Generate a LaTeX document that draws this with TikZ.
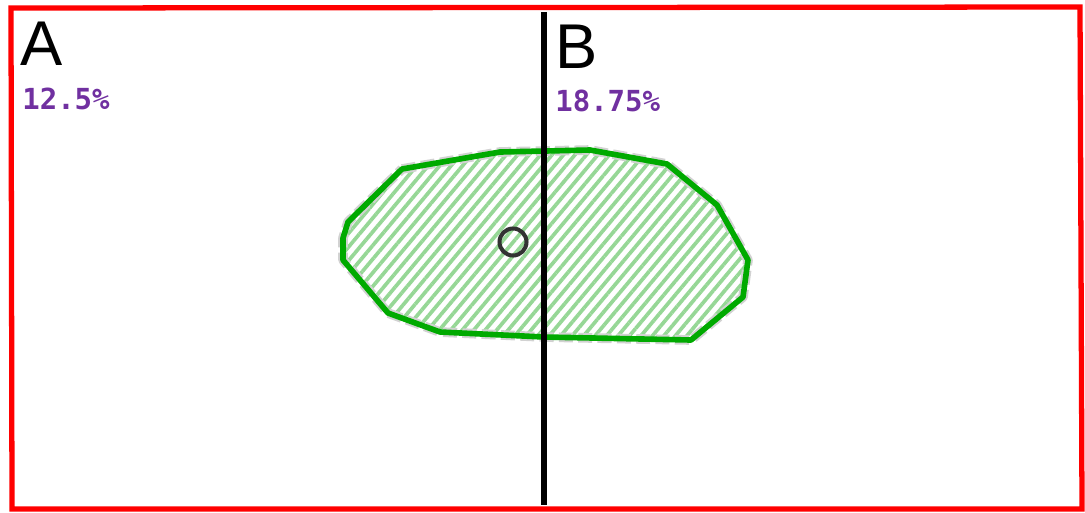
\documentclass[tikz,border=0pt]{standalone}
\usepackage{fontspec}
\setmainfont{Liberation Sans}
\newfontfamily\pctfont{DejaVu Sans Mono}
\usetikzlibrary{patterns.meta}
\definecolor{framered}{RGB}{255,0,0}
\definecolor{blobgreen}{RGB}{0,170,0}
\definecolor{hatchgreen}{RGB}{150,215,150}
\definecolor{pctpurple}{RGB}{112,48,160}
\tikzstyle{letter}=[anchor=base west, inner sep=0, font=\fontsize{36}{36}\selectfont]
\tikzstyle{pct}=[anchor=base west, inner sep=0, text=pctpurple, font=\pctfont\bfseries\fontsize{16.5}{16.5}\selectfont]
\tikzstyle{blobedge}=[line width=3.2pt, blobgreen, line join=round]
\tikzstyle{shadowedge}=[line width=5.5pt, gray!35, dash pattern=on 8pt off 3pt, line join=round]

\begin{document}
\begin{tikzpicture}[x=0.02cm, y=-0.02cm]
\useasboundingbox (0,0) rectangle (1085,512);
% frame
\draw[framered, line width=3pt] (11,8)--(1080,7)--(1082,509)--(12,509)--cycle;
% region
\def\blob{(402,169)--(500,152)--(590,150)--(667,164)--(717,205)--(748,260)--(743,297)--(691,340)--(544,337)--(440,332)--(388,313)--(343,260)--(343,238)--(348,222)--cycle}
\fill[pattern={Lines[angle=50,distance=5pt,line width=2.1pt]}, pattern color=hatchgreen] \blob;
\draw[shadowedge] \blob;
\draw[blobedge] \blob;
\node at (513,242) [circle, draw=black!80, line width=2.3pt, minimum size=0.54cm, inner sep=0](centre){};
% split
\draw[black, line width=3pt] (544,12)--(544,505);
% labels
\node at (20,65) [letter](A){A};
\node at (22,109) [pct](pA){12.5\%};
\node at (555,68) [letter](B){B};
\node at (555,111) [pct](pB){18.75\%};
\end{tikzpicture}
\end{document}
